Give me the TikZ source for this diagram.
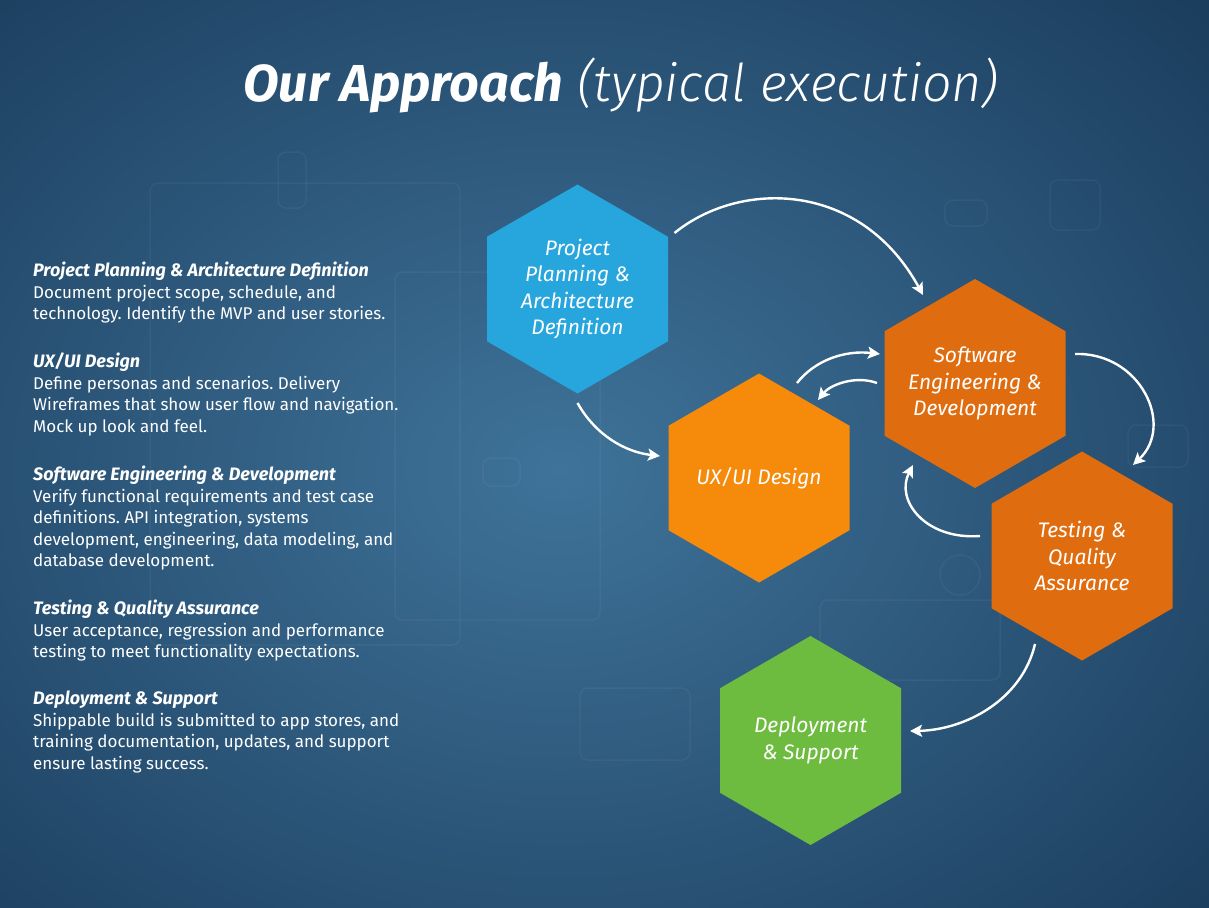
\documentclass[tikz,border=0pt]{standalone}
\usepackage{fontspec}
\setmainfont{Fira Sans}
\IfFontExistsTF{Fira Sans Light}{\newfontfamily\lightfam{Fira Sans Light}}{\newfontfamily\lightfam{Fira Sans}}
\usepackage{tikz}
\usetikzlibrary{calc}
\usetikzlibrary{shapes.geometric}
\usetikzlibrary{arrows.meta}
\frenchspacing

\definecolor{bgin}{HTML}{3F7399}
\definecolor{bgout}{HTML}{1A3C5C}
\definecolor{hexblue}{HTML}{27A5DD}
\definecolor{hexorange}{HTML}{F58A0B}
\definecolor{hexdark}{HTML}{DF6C0F}
\definecolor{hexgreen}{HTML}{6DBC40}

\tikzset{
  hexa/.style = {regular polygon, regular polygon sides = 6,
    shape border rotate = 30, minimum size = 209pt, inner sep = 0pt},
  hexlabel/.style = {text = white, align = center, inner sep = 0pt,
    font = \fontsize{21}{26.5}\selectfont\itshape},
  flow/.style = {draw = white, line width = 2.4pt,
    -{Stealth[length = 12pt, width = 12pt, inset = 2.5pt]}},
  ghost/.style = {draw = white, opacity = .045, line width = 1.5pt,
    rounded corners = 8pt},
  blurb/.style = {anchor = north west, inner sep = 0pt, text = white,
    align = left, font = \fontsize{17}{21.5}\selectfont}
}
\newcommand{\blurbhead}[1]{{\fontsize{18}{21.5}\selectfont\bfseries\itshape #1}}

\begin{document}
\begin{tikzpicture}[x = 1pt, y = -1pt]
% background
  \useasboundingbox (0,0) rectangle (1209,907);
  \clip (0,0) rectangle (1209,907);
  \shade[inner color = bgin, outer color = bgout]
    (-340,-230) rectangle (1460,1170);
  \draw[ghost] (278,152) rectangle (306,208);
  \draw[ghost] (150,183) rectangle (460,645);
  \draw[ghost] (395,272) rectangle (600,620);
  \draw[ghost] (945,200) rectangle (987,226);
  \draw[ghost] (1050,180) rectangle (1100,230);
  \draw[ghost] (1128,425) rectangle (1188,467);
  \draw[ghost] (580,688) rectangle (690,760);
  \draw[ghost] (483,458) rectangle (520,486);
  \draw[ghost] (820,600) rectangle (1000,680);
  \draw[ghost] (960,575) circle (20);

% title
  \node[text = white, font = \fontsize{52}{60}\selectfont] (title) at (621,85)
    {{\bfseries\itshape Our Approach} {\lightfam\itshape (typical execution)}};

% descriptions
  \node[blurb] (ppText) at (33,262)
    {\blurbhead{Project Planning \& Architecture Definition}\\
    Document project scope, schedule, and\\
    technology. Identify the MVP and user stories.};
  \node[blurb] (uxText) at (33,353)
    {\blurbhead{UX/UI Design}\\
    Define personas and scenarios. Delivery\\
    Wireframes that show user flow and navigation.\\
    Mock up look and feel.};
  \node[blurb] (seText) at (33,466)
    {\blurbhead{Software Engineering \& Development}\\
    Verify functional requirements and test case\\
    definitions. API integration, systems\\
    development, engineering, data modeling, and\\
    database development.};
  \node[blurb] (tqText) at (33,600)
    {\blurbhead{Testing \& Quality Assurance}\\
    User acceptance, regression and performance\\
    testing to meet functionality expectations.};
  \node[blurb] (dsText) at (33,691)
    {\blurbhead{Deployment \& Support}\\
    Shippable build is submitted to app stores, and\\
    training documentation, updates, and support\\
    ensure lasting success.};

% hexagons
  \node[hexa, fill = hexblue, label = {[hexlabel]center:
    Project\\Planning \&\\Architecture\\Definition}] (pp) at (577.5,289) {};
  \node[hexa, fill = hexorange, label = {[hexlabel]center:
    UX/UI Design}] (ux) at (759,478) {};
  \node[hexa, fill = hexdark, label = {[hexlabel]center:
    Software\\Engineering \&\\Development}] (se) at (975,383.5) {};
  \node[hexa, fill = hexdark, label = {[hexlabel]center:
    Testing \&\\Quality\\Assurance}] (tq) at (1082,556) {};
  \node[hexa, fill = hexgreen, label = {[hexlabel]center:
    Deployment\\\& Support}] (ds) at (810.5,740.5) {};

% flow
  \draw[flow] ($(pp)+(97,-56)$) .. controls +(65,-53) and +(-63,-115)
    .. ($(se)+(-52,-88.5)$);
  \draw[flow] ($(pp)+(0,114)$) .. controls +(18,32) and +(-35,-4)
    .. ($(ux)+(-99,-22)$);
  \draw[flow] ($(ux)+(38,-95)$) .. controls +(18,-23) and +(-35,-4)
    .. ($(se)+(-95,-29.5)$);
  \draw[flow] ($(se)+(-98,-0.5)$) .. controls +(-22,-8) and +(12,-15)
    .. ($(ux)+(59,-78)$);
  \draw[flow] ($(se)+(100,-29.5)$) .. controls +(65,-2) and +(42,-40)
    .. ($(tq)+(51,-91)$);
  \draw[flow] ($(tq)+(-102,-20)$) .. controls +(-55,4) and +(-18,35)
    .. ($(se)+(-62,81.5)$);
  \draw[flow] ($(tq)+(-47,88)$) .. controls +(-13,56) and +(55,-1)
    .. ($(ds)+(99.5,-9.5)$);

\end{tikzpicture}
\end{document}
